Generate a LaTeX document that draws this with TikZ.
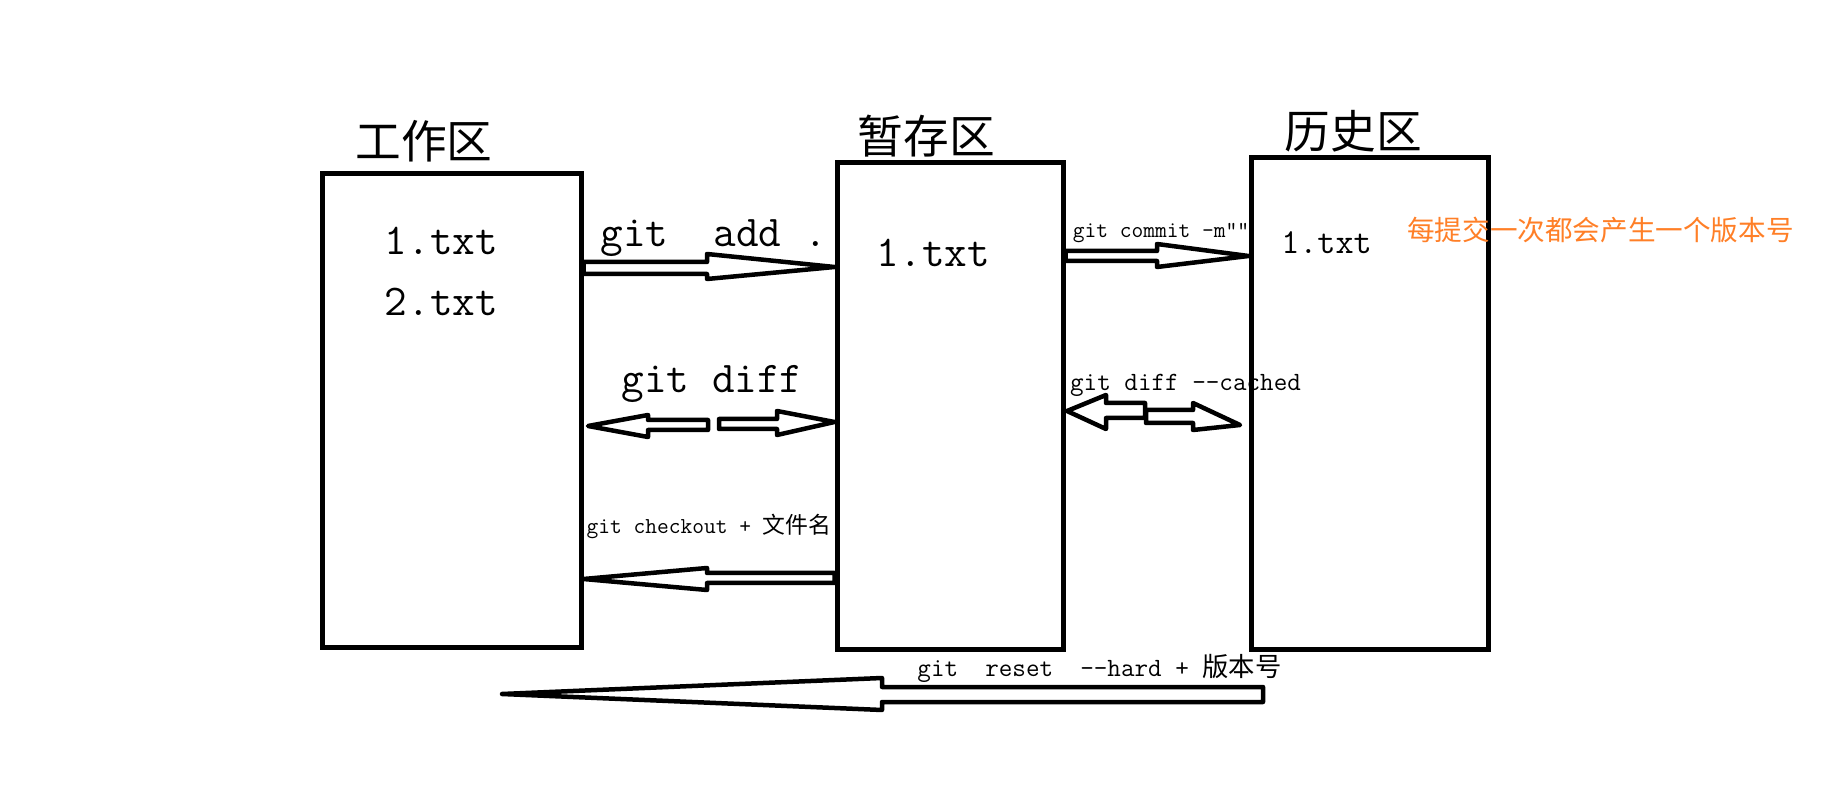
\documentclass[tikz,border=0pt]{standalone}
\usepackage{fontspec}
\newfontfamily\cjk{Noto Sans CJK SC}

\begin{document}
\begin{tikzpicture}[
    areabox/.style={shape=rectangle,draw,line width=0.1cm,inner sep=0pt},
    areatitle/.style={font=\cjk\fontsize{26pt}{30pt}\selectfont,inner sep=0pt},
    filetxt/.style={font=\ttfamily\fontsize{25pt}{30pt}\selectfont,inner sep=0pt,anchor=base},
    cmdtxt/.style={font=\ttfamily\fontsize{15pt}{18pt}\selectfont,inner sep=0pt,anchor=base},
    smallcmd/.style={font=\ttfamily\fontsize{13pt}{16pt}\selectfont,inner sep=0pt,anchor=base},
    blockarrow/.style={draw,line width=0.09cm,line join=round}
]
    \definecolor{paint_orange}{RGB}{255,127,39}
    \path[use as bounding box,fill=white] (0,0) rectangle (36.44,15.82);
    % areas
    \node[areabox,minimum width=5.18cm,minimum height=9.48cm] (work) at (9.03,7.60) {};
    \node[areabox,minimum width=4.52cm,minimum height=9.74cm] (stage) at (19.00,7.69) {};
    \node[areabox,minimum width=4.74cm,minimum height=9.84cm] (hist) at (27.39,7.74) {};
    \node[areatitle] (worktitle) at (8.48,13.00) {工作区};
    \node[areatitle] (stagetitle) at (18.53,13.10) {暂存区};
    \node[areatitle] (histtitle) at (27.07,13.20) {历史区};
    % files
    \node[filetxt] (workfileA) at (8.83,10.72) {1.txt};
    \node[filetxt] (workfileB) at (8.83,9.50) {2.txt};
    \node[filetxt] (stagefile) at (18.67,10.48) {1.txt};
    \node[filetxt,font=\ttfamily\fontsize{20pt}{24pt}\selectfont] (histfile) at (26.53,10.74) {1.txt};
    \node[inner sep=0pt,text=paint_orange,font=\cjk\fontsize{15.7pt}{19pt}\selectfont] (note) at (32.01,11.23) {每提交一次都会产生一个版本号};
    % commands
    \node[filetxt] (addlabel) at (14.27,10.88) {git~~add~.};
    \node[smallcmd] (commitlabel) at (23.22,11.06) {git~commit~-m“”};
    \node[filetxt] (difflabel) at (14.24,7.96) {git~diff};
    \node[cmdtxt] (cachedlabel) at (23.71,8.00) {git~diff~-{}-cached};
    \node[smallcmd] (checkoutlabel) at (14.18,5.14) {git~checkout~+~{\cjk 文件名}};
    \node[cmdtxt] (resetlabel) at (21.99,2.28) {git~~reset~~-{}-hard~+~{\cjk 版本号}};
    % free arrow ends
    \coordinate (difftip) at (11.76,7.30);
    \coordinate (cachedleft) at (21.34,7.60);
    \coordinate (cachedright) at (24.80,7.32);
    \coordinate (resettail) at (25.26,1.93);
    \coordinate (resettip) at (10.04,1.94);
    % arrows
    \draw[blockarrow] (work.east |- 0,10.58) -- (14.14,10.58) -- (14.14,10.74) -- (stage.west |- 0,10.48) -- (14.14,10.24) -- (14.14,10.34) -- (work.east |- 0,10.34) -- cycle;
    \draw[blockarrow] (stage.east |- 0,10.80) -- (23.14,10.80) -- (23.14,10.94) -- (hist.west |- 0,10.70) -- (23.14,10.48) -- (23.14,10.60) -- (stage.east |- 0,10.60) -- cycle;
    \draw[blockarrow] (difftip) -- (12.96,7.52) -- (12.96,7.42) -- (14.16,7.42) -- (14.16,7.22) -- (12.96,7.22) -- (12.96,7.08) -- cycle;
    \draw[blockarrow] (14.38,7.44) -- (15.54,7.44) -- (15.54,7.60) -- (stage.west |- 0,7.38) -- (15.54,7.12) -- (15.54,7.24) -- (14.38,7.24) -- cycle;
    \draw[blockarrow] (cachedleft) -- (22.12,7.92) -- (22.12,7.76) -- (22.90,7.76) -- (22.90,7.46) -- (22.12,7.46) -- (22.12,7.24) -- cycle;
    \draw[blockarrow] (22.92,7.62) -- (23.86,7.62) -- (23.86,7.76) -- (cachedright) -- (23.86,7.22) -- (23.86,7.36) -- (22.92,7.36) -- cycle;
    \draw[blockarrow] (stage.west |- 0,4.36) -- (14.14,4.36) -- (14.14,4.46) -- (work.east |- 0,4.24) -- (14.14,4.02) -- (14.14,4.16) -- (stage.west |- 0,4.16) -- cycle;
    \draw[blockarrow] (resettail |- 0,2.08) -- (17.64,2.08) -- (17.64,2.26) -- (resettip) -- (17.64,1.62) -- (17.64,1.78) -- (resettail |- 0,1.78) -- cycle;
\end{tikzpicture}
\end{document}
